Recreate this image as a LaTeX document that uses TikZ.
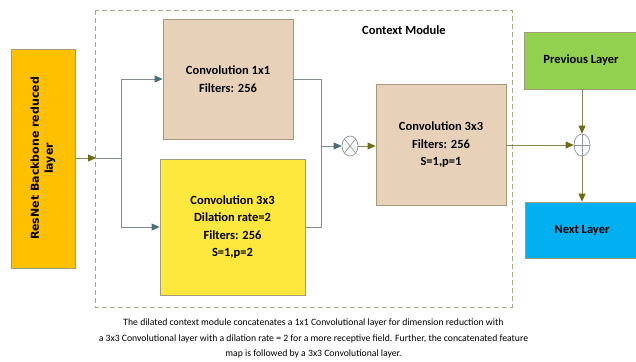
\documentclass[tikz,border=0pt]{standalone}
\usepackage{fontspec}
\setmainfont{Carlito}
\newfontfamily\vfont{DejaVu Sans}
\usetikzlibrary{arrows.meta,shapes.geometric}
\definecolor{resfill}{HTML}{FFC000}
\definecolor{tanfill}{HTML}{E8D1B9}
\definecolor{yelfill}{HTML}{FFE83E}
\definecolor{grnfill}{HTML}{92D050}
\definecolor{blufill}{HTML}{00B0F0}
\definecolor{boxline}{HTML}{A39A78}
\definecolor{dashcol}{HTML}{A8A888}
\definecolor{teal}{HTML}{4C6E78}
\definecolor{grayline}{HTML}{7F8C98}
\definecolor{olive}{HTML}{6E6C12}
\definecolor{oliveline}{HTML}{8A8850}
\definecolor{opcol}{HTML}{8D949C}
\tikzset{
  box/.style={draw=boxline, line width=0.8pt, inner sep=0pt, font=\bfseries\fontsize{12.5}{17.5}\selectfont, align=center},
  opnode/.style={ellipse, draw=opcol, line width=0.7pt, minimum width=16pt, minimum height=20pt, inner sep=0pt},
  tealarrow/.style={draw=grayline, line width=0.8pt, -{Triangle[length=8pt,width=7pt,color=teal]}},
  graylink/.style={draw=grayline, line width=0.8pt},
  olivearrow/.style={draw=oliveline, line width=0.8pt, -{Triangle[length=8pt,width=7pt,color=olive]}},
}
\begin{document}
\begin{tikzpicture}[x=1pt,y=-1pt]
\useasboundingbox (0,0) rectangle (636,361);
% dashed context module frame
\draw[dashcol, line width=0.8pt, dash pattern=on 5pt off 3pt] (95,10) rectangle (512,307);
\node[font=\bfseries\fontsize{12.5}{15}\selectfont] (ctx) at (404,30) {Context Module};
% nodes
\node[box, fill=resfill, minimum width=64pt, minimum height=219pt] (res) at (43,158.5) {};
\node[rotate=90, font=\vfont\bfseries\fontsize{11}{14}\selectfont, align=center] (restext) at (43,158.5) {ResNet Backbone reduced\\layer};
\node[box, fill=tanfill, minimum width=130pt, minimum height=120pt] (c11) at (228,79) {Convolution 1x1\\Filters: 256};
\node[box, fill=yelfill, minimum width=145pt, minimum height=136pt] (dil) at (232.5,227) {Convolution 3x3\\Dilation rate=2\\Filters: 256\\S=1,p=2};
\node[box, fill=tanfill, minimum width=130pt, minimum height=121pt] (c33) at (441,145) {Convolution 3x3\\Filters: 256\\S=1,p=1};
\node[box, fill=grnfill, minimum width=114pt, minimum height=57pt] (prev) at (581,60.5) {Previous Layer};
\node[box, fill=blufill, minimum width=114pt, minimum height=56pt] (next) at (582,230) {Next Layer};
\node[opnode, path picture={\draw[opcol, line width=0.7pt] (path picture bounding box.north west) -- (path picture bounding box.south east) (path picture bounding box.south west) -- (path picture bounding box.north east);}] (mul) at (350,146) {};
\node[opnode, minimum height=22pt, path picture={\draw[opcol, line width=0.7pt] (path picture bounding box.north) -- (path picture bounding box.south) (path picture bounding box.west) -- (path picture bounding box.east);}] (add) at (582,145) {};
% connectors
\coordinate (in) at (96,158);
\coordinate (split) at (121,158);
\coordinate (merge) at (321,146);
\draw[olivearrow] (res.east |- in) -- (in);
\draw[graylink] (in) -- (split);
\draw[tealarrow] (split) |- (c11.west);
\draw[tealarrow] (split) |- (dil.west);
\draw[graylink] (c11.east) -| (merge);
\draw[graylink] (dil.east) -| (merge);
\draw[tealarrow] (merge) -- (mul.west);
\draw[olivearrow] (mul.east) -- (c33.west |- mul.east);
\draw[olivearrow] (c33.east |- add.west) -- (add.west);
\draw[olivearrow] (prev.south -| add.north) -- (add.north);
\draw[olivearrow] (add.south) -- (next.north -| add.south);
% caption
\node[font=\fontsize{9.7}{15.5}\selectfont, align=center] (cap) at (313.5,338.5) {The dilated context module concatenates a 1x1 Convolutional layer for dimension reduction with\\a 3x3 Convolutional layer with a dilation rate = 2 for a more receptive field. Further, the concatenated feature\\map is followed by a 3x3 Convolutional layer.};
\end{tikzpicture}
\end{document}
